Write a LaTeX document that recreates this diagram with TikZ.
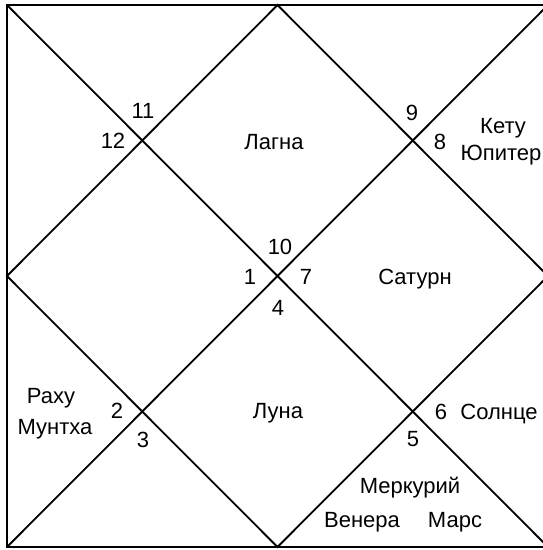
\documentclass[tikz,border=0pt]{standalone}
\usepackage{fontspec}
\setmainfont{Liberation Sans}
\usetikzlibrary{positioning}
\tikzset{
  frame/.style={line width=2.6pt, color=black},
  divider/.style={line width=1.8pt, color=black},
  housenum/.style={font=\fontsize{22}{24}\selectfont, inner sep=0pt, anchor=base},
  planet/.style={font=\fontsize{22}{24}\selectfont, inner sep=0pt, anchor=base}
}

\begin{document}
\begin{tikzpicture}[x=1pt, y=-1pt]
  \useasboundingbox (0,0) rectangle (542,550);
  \fill[white] (0,0) rectangle (542,550);
  % ── Chart frame ───────────────────────────────────────────────
  \coordinate (tl) at (7,5);
  \coordinate (tr) at (548,5);
  \coordinate (br) at (548,547);
  \coordinate (bl) at (7,547);
  \coordinate (tm) at (277.5,5);
  \coordinate (rm) at (548,276);
  \coordinate (bm) at (277.5,547);
  \coordinate (lm) at (7,276);
  % Diagonals and inner diamond
  \draw[divider] (tl) -- (br);
  \draw[divider] (tr) -- (bl);
  \draw[divider] (tm) -- (rm) -- (bm) -- (lm) -- cycle;
  \draw[frame] (tl) rectangle (br);

  % ── House numbers ─────────────────────────────────────────────
  \node[housenum] (h11) at (143,118) {11};
  \node[housenum] (h12) at (113,148) {12};
  \node[housenum] (h9)  at (412,120) {9};
  \node[housenum] (h8)  at (440,149) {8};
  \node[housenum] (h10) at (280,254) {10};
  \node[housenum] (h1)  at (250,284) {1};
  \node[housenum] (h7)  at (306,284) {7};
  \node[housenum] (h4)  at (278,315) {4};
  \node[housenum] (h2)  at (117,418) {2};
  \node[housenum] (h3)  at (143,447) {3};
  \node[housenum] (h6)  at (441,419) {6};
  \node[housenum] (h5)  at (413,446) {5};

  % ── Planets ───────────────────────────────────────────────────
  \node[planet] (lagna)    at (274,149) {Лагна};
  \node[planet] (ketu)     at (503,133) {Кету};
  \node[planet] (jupiter)  at (501,160) {Юпитер};
  \node[planet] (saturn)   at (415,284) {Сатурн};
  \node[planet] (rahu)     at (51,403)  {Раху};
  \node[planet] (muntha)   at (55,434)  {Мунтха};
  \node[planet] (moon)     at (278,418) {Луна};
  \node[planet] (sun)      at (499,419) {Солнце};
  \node[planet] (mercury)  at (410,493) {Меркурий};
  \node[planet] (venus)    at (362,527) {Венера};
  \node[planet] (mars)     at (455,527) {Марс};
\end{tikzpicture}
\end{document}
